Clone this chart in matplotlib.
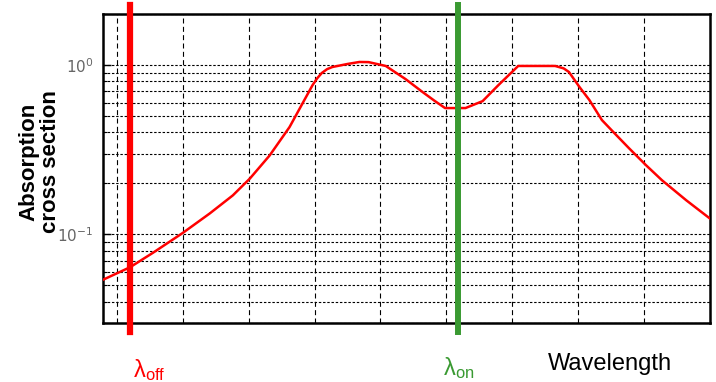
import numpy as np
import matplotlib
matplotlib.use("Agg")
import matplotlib.pyplot as plt
from matplotlib.ticker import FixedLocator, FixedFormatter, NullFormatter

# absorption spectrum (wavelength in grid units, log y)
wavelength = [0.79, 1.2, 1.55, 2.0, 2.41, 2.76, 3.02, 3.32, 3.62, 3.82, 3.97,
              4.04, 4.11, 4.19, 4.27, 4.5, 4.68, 4.82, 5.08, 5.38, 5.64, 5.82,
              5.98, 6.29, 6.55, 6.79, 7.09, 7.65, 7.78, 7.86, 8.02, 8.17, 8.36,
              8.58, 8.77, 9.03, 9.27, 9.64, 10.0]
absorption = [0.054, 0.064, 0.078, 0.102, 0.133, 0.170, 0.214, 0.293, 0.430,
              0.596, 0.761, 0.835, 0.897, 0.945, 0.973, 1.014, 1.042, 1.04,
              0.987, 0.826, 0.692, 0.615, 0.557, 0.557, 0.612, 0.761, 0.987,
              0.987, 0.955, 0.909, 0.741, 0.621, 0.473, 0.385, 0.323, 0.256,
              0.209, 0.159, 0.124]

lambda_off = 1.2
lambda_on = 6.18
xgrid = [1, 2, 3, 4, 5, 6, 7, 8, 9]
ymajor = [0.1, 1.0]
ymajor_labels = [r'$\mathregular{10^{-1}}$', r'$\mathregular{10^{0}}$']

green = '#3a9a32'

plt.rcParams['mathtext.fontset'] = 'custom'
plt.rcParams['mathtext.rm'] = 'Liberation Sans'

fig = plt.figure(figsize=(7.16, 3.82), dpi=100)
ax = fig.add_axes([103/716, 1 - 323/382, 607/716, 309/382])

ax.set_yscale('log')
ax.set_xlim(0.79, 10.0)
ax.set_ylim(0.03, 2.0)

#curve
ax.plot(wavelength, absorption, color='#ff0000', lw=1.8, zorder=3)

#on / off lines, sticking out a bit above and below the box
ax.axvline(lambda_off, ymin=-0.03, ymax=1.03, color='#ff0000', lw=4.5,
           clip_on=False, zorder=4)
ax.axvline(lambda_on, ymin=-0.03, ymax=1.03, color=green, lw=4.3,
           clip_on=False, zorder=4)

#grid
ax.xaxis.set_major_locator(FixedLocator(xgrid))
ax.xaxis.set_major_formatter(NullFormatter())
ax.tick_params(axis='x', which='both', length=0)
ax.grid(axis='x', which='major', color='black', lw=0.8, dashes=(4.5, 3))
ax.grid(axis='y', which='both', color='black', lw=0.8, dashes=(2.2, 1.6))

ax.yaxis.set_major_locator(FixedLocator(ymajor))
ax.yaxis.set_major_formatter(FixedFormatter(ymajor_labels))
ax.yaxis.set_minor_formatter(NullFormatter())
ax.tick_params(axis='y', which='major', direction='in', length=6, width=1,
               pad=7, labelsize=11, labelcolor='#666666')
ax.tick_params(axis='y', which='minor', direction='in', length=3, width=0.8)

for s in ax.spines.values():
    s.set_linewidth(1.8)

#labels
fig.text(40/716, 1 - 162/382, 'Absorption\ncross section', rotation=90,
         ha='center', va='center', ma='center', fontsize=16,
         fontweight='bold', family='Liberation Sans', linespacing=1.05)
fig.text(133/716, 1 - 377/382, r'$\mathregular{\lambda_{off}}$', color='#ff0000',
         fontsize=17, family='Liberation Sans', ha='left', va='baseline')
fig.text(443/716, 1 - 375/382, r'$\mathregular{\lambda_{on}}$', color=green,
         fontsize=17, family='Liberation Sans', ha='left', va='baseline')
fig.text(548/716, 1 - 370/382, 'Wavelength', color='black', fontsize=17,
         family='Liberation Sans', ha='left', va='baseline')

fig.savefig('out.png', dpi=100)
